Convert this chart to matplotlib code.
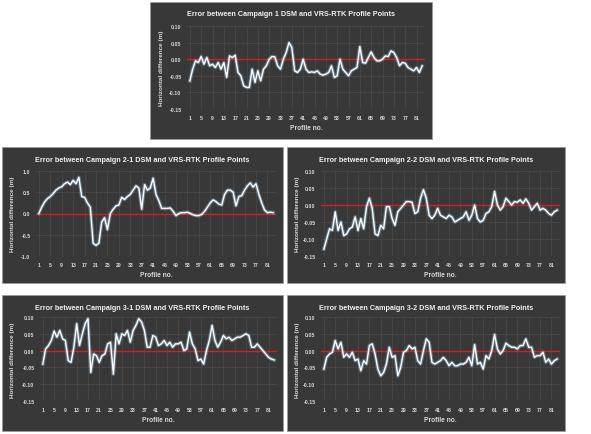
import matplotlib.pyplot as plt
from matplotlib.patches import Rectangle

plt.rcParams["font.family"] = ["Liberation Sans", "DejaVu Sans"]

W, H = 591, 435

c1 = [-0.065, -0.03, -0.005, -0.01, 0.008, -0.015, 0.005, -0.02, -0.015, -0.025,
      -0.01, -0.03, -0.01, -0.055, 0.01, 0.005, 0.012, -0.04, -0.05, -0.08,
      -0.085, -0.085, -0.03, -0.07, -0.035, -0.065, -0.03, -0.02, 0.0, 0.008,
      0.007, -0.02, -0.03, 0.0, 0.02, 0.05, 0.035, -0.035, -0.04, -0.03,
      0.0, -0.03, -0.04, -0.038, -0.04, -0.035, -0.045, -0.048, -0.045, -0.04,
      -0.02, -0.055, -0.05, 0.0, -0.03, -0.04, -0.05, -0.035, -0.03, -0.025,
      0.038, -0.01, -0.012, 0.005, 0.022, 0.005, -0.005, -0.005, 0.0, 0.01,
      0.008, 0.025, 0.02, 0.005, -0.02, -0.01, -0.012, -0.025, -0.03, -0.035,
      -0.025, -0.04, -0.02]

c21 = [0.0, 0.15, 0.27, 0.35, 0.4, 0.47, 0.55, 0.6, 0.63, 0.7,
       0.74, 0.68, 0.78, 0.7, 0.85, 0.4, 0.38, 0.25, 0.15, -0.7,
       -0.75, -0.7, -0.2, -0.1, -0.38, 0.0, 0.1, 0.18, 0.2, 0.38,
       0.33, 0.4, 0.45, 0.55, 0.65, 0.6, 0.1, 0.68, 0.55, 0.6,
       0.83, 0.45, 0.3, 0.12, 0.12, 0.12, 0.13, 0.05, -0.05, 0.0,
       0.02, 0.02, 0.03, 0.0, -0.03, -0.05, -0.05, -0.02, 0.05, 0.15,
       0.25, 0.32, 0.28, 0.22, 0.2, 0.45, 0.55, 0.55, 0.5, 0.18,
       0.4, 0.42, 0.55, 0.65, 0.72, 0.62, 0.7, 0.45, 0.25, 0.08,
       0.02, 0.03, 0.02]

c22 = [-0.13, -0.1, -0.07, -0.075, -0.02, -0.075, -0.05, -0.09, -0.085, -0.07,
       -0.065, -0.035, -0.075, -0.04, -0.07, -0.005, 0.02, -0.01, -0.085, -0.09,
       -0.06, -0.07, -0.005, -0.005, -0.04, -0.06, -0.02, -0.01, 0.0, 0.01,
       0.01, 0.008, -0.025, -0.02, 0.02, 0.045, 0.02, -0.03, -0.04, -0.03,
       -0.01, -0.03, -0.035, -0.04, -0.03, -0.035, -0.05, -0.045, -0.04, -0.035,
       -0.02, -0.045, -0.03, 0.0, -0.04, -0.05, -0.045, -0.025, -0.02, -0.005,
       0.04, 0.0, -0.015, -0.005, 0.02, 0.01, 0.0, 0.01, 0.008, 0.015,
       0.005, 0.018, 0.005, -0.015, -0.005, 0.005, -0.015, -0.01, -0.015, -0.025,
       -0.03, -0.02, -0.015]

c31 = [-0.04, 0.005, 0.015, 0.03, 0.058, 0.04, 0.06, 0.035, 0.03, -0.03,
       -0.035, 0.01, 0.08, 0.015, 0.05, 0.08, 0.095, -0.065, -0.01, -0.015,
       -0.035, -0.015, -0.01, 0.02, 0.025, -0.07, 0.05, 0.02, 0.05, 0.045,
       0.06, 0.025, 0.06, 0.075, 0.095, 0.085, 0.06, 0.01, 0.01, 0.045,
       0.04, 0.015, 0.02, 0.03, 0.015, 0.025, 0.01, 0.02, 0.02, 0.025,
       0.0, 0.005, 0.055, 0.02, 0.005, -0.03, -0.025, -0.04, 0.0, 0.03,
       0.075, 0.03, 0.01, 0.025, 0.045, 0.035, 0.04, 0.03, 0.035, 0.04,
       0.04, 0.045, 0.05, 0.045, 0.01, 0.01, 0.02, 0.01, 0.0, -0.01,
       -0.02, -0.025, -0.028]

c32 = [-0.055, -0.02, -0.01, -0.005, 0.03, 0.005, 0.025, -0.02, -0.01, -0.02,
       -0.005, -0.03, -0.025, -0.06, -0.03, -0.04, 0.015, 0.02, -0.01, -0.055,
       -0.075, -0.065, -0.04, 0.01, -0.02, -0.015, -0.075, -0.05, -0.005, 0.0,
       0.015, 0.005, 0.01, -0.03, -0.04, 0.0, 0.035, 0.025, -0.035, -0.04,
       -0.035, -0.03, -0.02, -0.03, -0.045, -0.035, -0.045, -0.045, -0.04, -0.04,
       -0.035, -0.02, -0.045, 0.018, -0.04, -0.035, -0.055, -0.015, -0.025, 0.0,
       0.048, 0.005, -0.01, 0.0, 0.022, 0.015, 0.01, 0.01, 0.005, 0.015,
       0.015, 0.035, 0.01, 0.01, -0.02, -0.015, -0.015, -0.005, -0.035, -0.025,
       -0.04, -0.03, -0.025]

titles = ["Error between Campaign 1 DSM and VRS-RTK Profile Points",
          "Error between Campaign 2-1 DSM and VRS-RTK Profile Points",
          "Error between Campaign 2-2 DSM and VRS-RTK Profile Points",
          "Error between Campaign 3-1 DSM and VRS-RTK Profile Points",
          "Error between Campaign 3-2 DSM and VRS-RTK Profile Points"]
series = [c1, c21, c22, c31, c32]
small_ticks = [-0.15, -0.10, -0.05, 0.00, 0.05, 0.10]
big_ticks = [-1.0, -0.5, 0.0, 0.5, 1.0]
x_ticks = list(range(1, 82, 4))

# panel box (x0, y0, x1, y1) in pixels, and axes offsets (left, top, right, bottom)
panels = [
    ((150, 3, 432, 140), (37, 24, 7, 30)),
    ((2, 148, 283, 284), (34, 24, 7, 27)),
    ((287, 148, 565, 284), (34, 24, 5, 27)),
    ((2, 296, 283, 432), (38, 22, 6, 30)),
    ((287, 296, 565, 432), (34, 22, 5, 30)),
]

BG = "#383838"
TXT = "#d8d8d8"

fig = plt.figure(figsize=(W / 100, H / 100), dpi=100)
fig.patch.set_facecolor("white")

for i, ((x0, y0, x1, y1), (ol, ot, orr, ob)) in enumerate(panels):
    fig.patches.append(Rectangle((x0 / W, 1 - y1 / H), (x1 - x0) / W, (y1 - y0) / H,
                                 transform=fig.transFigure, facecolor=BG,
                                 edgecolor="#9a9a9a", linewidth=0.5, zorder=-10))
    ax = fig.add_axes([(x0 + ol) / W, 1 - (y1 - ob) / H,
                       (x1 - x0 - ol - orr) / W, (y1 - y0 - ot - ob) / H])
    ax.set_facecolor("none")
    y = series[i]
    x = list(range(1, len(y) + 1))
    if i == 1:
        ax.set_ylim(-1.0, 1.0)
        ax.set_yticks(big_ticks)
        ax.set_yticklabels([f"{t:.1f}" for t in big_ticks])
    else:
        ax.set_ylim(-0.15, 0.10)
        ax.set_yticks(small_ticks)
        ax.set_yticklabels([f"{t:.2f}" for t in small_ticks])
    ax.set_xlim(0, len(y) + 1)
    ax.set_xticks(x_ticks)
    ax.grid(True, color="#4c4c4c", linewidth=0.5)
    ax.axhline(0, color="#d02020", linewidth=1.0, zorder=2)
    ax.plot(x, y, color="#a8dcff", linewidth=2.6, alpha=0.35, zorder=3)
    ax.plot(x, y, color="white", linewidth=1.0, zorder=4)
    for s in ax.spines.values():
        s.set_visible(False)
    ax.tick_params(length=0, labelsize=3.8, labelcolor=TXT, pad=4)
    for lab in ax.get_xticklabels() + ax.get_yticklabels():
        lab.set_fontweight("bold")
    ax.set_xlabel("Profile no.", fontsize=4.8, color=TXT, fontweight="bold", labelpad=3)
    fig.text((x0 + 11) / W, 1 - (y0 + ot + (y1 - y0 - ot - ob) / 2) / H,
             "Horizontal difference (m)", rotation=90, ha="center", va="center",
             fontsize=4.6, color=TXT, fontweight="bold")
    fig.text((x0 + x1) / 2 / W, 1 - (y0 + 12) / H, titles[i], ha="center", va="center",
             fontsize=5.2, color="#f0f0f0", fontweight="bold")

fig.savefig("out.png", dpi=100)
